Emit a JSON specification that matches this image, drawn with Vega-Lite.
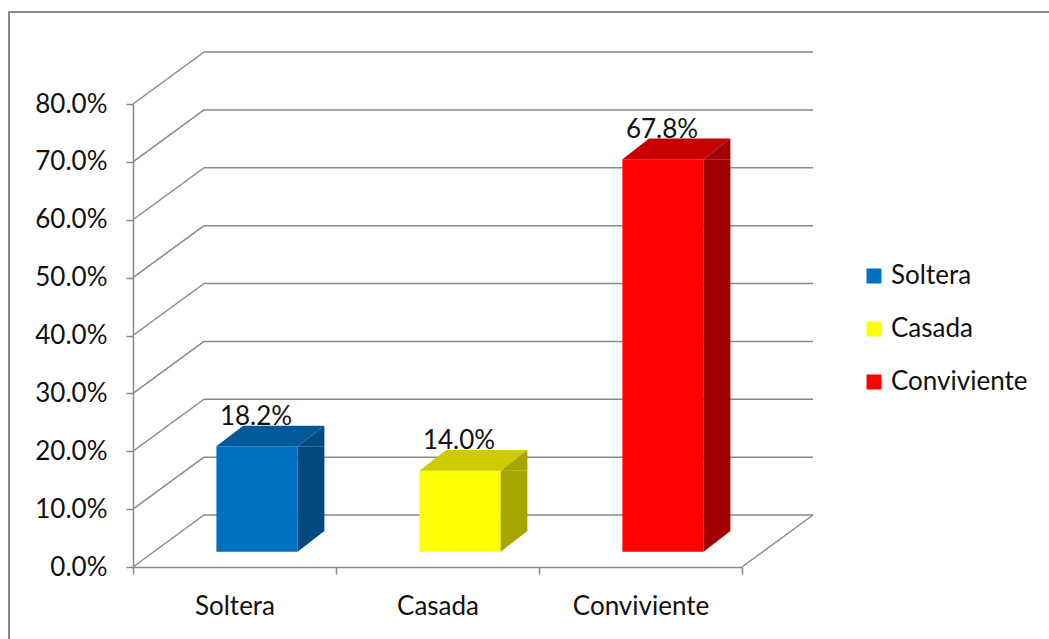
{
  "$schema": "https://vega.github.io/schema/vega-lite/v6.json",
  "width": 1040,
  "height": 627,
  "autosize": {"type": "none"},
  "padding": {"left": 9, "top": 12, "right": 0, "bottom": 0},
  "background": "white",
  "config": {
    "view": {"stroke": "#8a8a8a", "strokeWidth": 2, "strokeDash": [1040, 1667, 627]},
    "font": "Lato",
    "axis": {
      "labelFont": "Lato",
      "labelFontSize": 26,
      "labelColor": "#111111",
      "domainColor": "#898989",
      "domainWidth": 1.5,
      "tickColor": "#898989",
      "tickWidth": 1.5,
      "tickSize": 7,
      "grid": false
    }
  },
  "datasets": {
    "porcentajes": [
      {"categoria": "Soltera", "valor": 0.182},
      {"categoria": "Casada", "valor": 0.14},
      {"categoria": "Conviviente", "valor": 0.678}
    ],
    "niveles": [
      {"v": 0}, {"v": 0.1}, {"v": 0.2}, {"v": 0.3}, {"v": 0.4},
      {"v": 0.5}, {"v": 0.6}, {"v": 0.7}, {"v": 0.8}
    ]
  },
  "layer": [
    {
      "data": {"name": "niveles"},
      "mark": {"type": "rule", "color": "#898989", "strokeWidth": 1.5, "xOffset": -30.5, "x2Offset": 172.5, "yOffset": -52},
      "encoding": {
        "x": {
          "datum": "Soltera", "type": "nominal", "title": null,
          "scale": {"domain": ["Soltera", "Casada", "Conviviente"], "range": [124, 733], "paddingInner": 0, "paddingOuter": 0},
          "axis": {"orient": "bottom", "offset": -72, "tickBand": "extent", "labelPadding": 19, "labelAngle": 0, "title": null}
        },
        "x2": {"datum": "Conviviente"},
        "y": {
          "field": "v", "type": "quantitative", "title": null,
          "scale": {"domain": [0, 0.8], "range": [555, 92], "nice": false},
          "axis": {"orient": "left", "offset": -124, "values": [0, 0.1, 0.2, 0.3, 0.4, 0.5, 0.6, 0.7, 0.8], "format": ".1%", "labelPadding": 19, "title": null}
        }
      }
    },
    {
      "data": {"name": "niveles"},
      "mark": {"type": "rule", "color": "#898989", "strokeWidth": 1.5, "xOffset": -101.5, "x2Offset": -30.5, "y2Offset": -52},
      "encoding": {
        "x": {"datum": "Soltera", "type": "nominal", "title": null},
        "x2": {"datum": "Soltera"},
        "y": {"field": "v", "type": "quantitative", "title": null},
        "y2": {"field": "v"}
      }
    },
    {
      "data": {"values": [{}]},
      "mark": {"type": "rule", "color": "#898989", "strokeWidth": 1.5, "xOffset": 101.5, "x2Offset": 172.5, "y2Offset": -52},
      "encoding": {
        "x": {"datum": "Conviviente", "type": "nominal", "title": null},
        "x2": {"datum": "Conviviente"},
        "y": {"datum": 0, "type": "quantitative", "title": null},
        "y2": {"datum": 0}
      }
    },
    {
      "data": {"name": "porcentajes"},
      "mark": {"type": "text", "font": "Lato", "fontSize": 26, "color": "#111111", "align": "center", "baseline": "alphabetic", "dx": 21.5, "dy": -36.6},
      "encoding": {
        "x": {"field": "categoria", "type": "nominal", "title": null},
        "y": {"field": "valor", "type": "quantitative", "title": null},
        "text": {"field": "valor", "type": "quantitative", "format": ".1%"}
      }
    },
    {
      "data": {"name": "porcentajes"},
      "mark": {"type": "bar", "width": {"band": 0.4}, "xOffset": 22.5, "yOffset": -15.3, "y2Offset": -15.3},
      "encoding": {
        "x": {"field": "categoria", "type": "nominal", "title": null},
        "y": {"field": "valor", "type": "quantitative", "title": null},
        "y2": {"datum": 0},
        "fill": {
          "field": "categoria", "type": "nominal",
          "scale": {"domain": ["Soltera", "Casada", "Conviviente"], "range": ["#0070C0", "#FFFF00", "#FF0000"]},
          "legend": {
            "orient": "none", "legendX": 852, "legendY": 251, "direction": "vertical", "title": null,
            "symbolType": "square", "symbolSize": 225, "symbolStrokeWidth": 0,
            "labelFont": "Lato", "labelFontSize": 26, "labelColor": "#111111", "labelOffset": 4,
            "rowPadding": 27, "padding": 0
          }
        }
      }
    },
    {
      "data": {"name": "porcentajes"},
      "mark": {"type": "bar", "width": {"band": 0.132}, "xOffset": 76.5, "yOffset": -15.3, "y2Offset": -36},
      "encoding": {
        "x": {"field": "categoria", "type": "nominal", "title": null},
        "y": {"field": "valor", "type": "quantitative", "title": null},
        "y2": {"datum": 0},
        "fill": {
          "field": "categoria", "type": "nominal",
          "scale": {"domain": ["Soltera", "Casada", "Conviviente"], "range": ["#004A7F", "#A6A600", "#A00000"]},
          "legend": null
        }
      }
    },
    {
      "data": {"name": "porcentajes"},
      "mark": {"type": "point", "shape": "M-18.1,-15.3L63.1,-15.3L89.9,-36L8.7,-36Z", "size": 4, "filled": true, "opacity": 1, "strokeWidth": 0},
      "encoding": {
        "x": {"field": "categoria", "type": "nominal", "title": null},
        "y": {"field": "valor", "type": "quantitative", "title": null},
        "fill": {
          "field": "categoria", "type": "nominal",
          "scale": {"domain": ["Soltera", "Casada", "Conviviente"], "range": ["#00599A", "#CCCC00", "#C40000"]},
          "legend": null
        }
      }
    },
    {
      "data": {"name": "porcentajes"},
      "mark": {"type": "point", "shape": "M63.1,-15.3L89.9,-36L89.9,-15.3Z", "size": 4, "filled": true, "opacity": 1, "strokeWidth": 0},
      "encoding": {
        "x": {"field": "categoria", "type": "nominal", "title": null},
        "y": {"field": "valor", "type": "quantitative", "title": null},
        "fill": {
          "field": "categoria", "type": "nominal",
          "scale": {"domain": ["Soltera", "Casada", "Conviviente"], "range": ["#004A7F", "#A6A600", "#A00000"]},
          "legend": null
        }
      }
    },
    {
      "data": {"name": "porcentajes"},
      "mark": {"type": "point", "shape": "M63.1,-36L89.9,-36L63.1,-15.3Z", "size": 4, "filled": true, "opacity": 1, "strokeWidth": 0},
      "encoding": {
        "x": {"field": "categoria", "type": "nominal", "title": null},
        "y": {"datum": 0, "type": "quantitative", "title": null},
        "fill": {
          "field": "categoria", "type": "nominal",
          "scale": {"domain": ["Soltera", "Casada", "Conviviente"], "range": ["#004A7F", "#A6A600", "#A00000"]},
          "legend": null
        }
      }
    }
  ],
  "resolve": {"scale": {"fill": "independent"}}
}
